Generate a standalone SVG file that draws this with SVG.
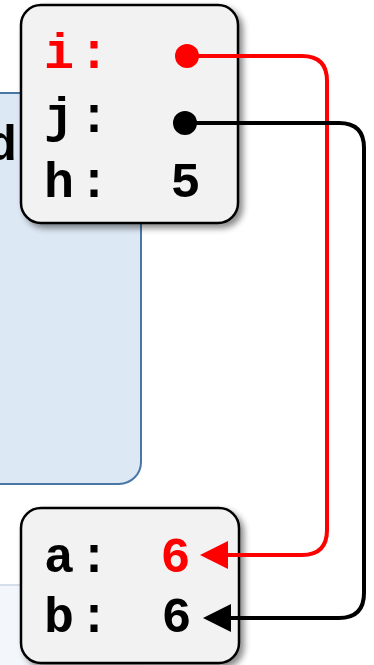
<svg xmlns="http://www.w3.org/2000/svg" width="374" height="665" viewBox="0 0 374 665">
  <style>
    .box { fill: #f2f2f2; stroke: #000; stroke-width: 2.5; filter: url(#shadow); }
    .lbl { font-family: "Liberation Mono", "DejaVu Sans Mono", monospace; font-weight: bold; font-size: 50px; letter-spacing: 5px; fill: #000; }
    .val { font-family: "Liberation Mono", "DejaVu Sans Mono", monospace; font-weight: bold; font-size: 50px; text-anchor: middle; fill: #000; }
    .red { fill: #ff0000; }
    .conn { fill: none; stroke-width: 4; stroke-linejoin: round; }
  </style>
  <defs>
    <filter id="shadow" x="-20%" y="-20%" width="150%" height="150%">
      <feDropShadow dx="4" dy="4" stdDeviation="3" flood-color="#000" flood-opacity="0.45"/>
    </filter>
    <marker id="arrRed" viewBox="0 0 28 28" refX="18" refY="14" markerWidth="28" markerHeight="28" orient="auto" markerUnits="userSpaceOnUse">
      <path d="M0,0 L28,14 L0,28 z" fill="#ff0000"/>
    </marker>
    <marker id="arrBlack" viewBox="0 0 28 28" refX="18" refY="14" markerWidth="28" markerHeight="28" orient="auto" markerUnits="userSpaceOnUse">
      <path d="M0,0 L28,14 L0,28 z" fill="#000"/>
    </marker>
  </defs>

  <rect x="0" y="0" width="374" height="665" fill="#ffffff"/>

  <g id="frame-blue">
    <rect x="-30" y="93" width="171" height="391" rx="22" fill="#dde8f5" stroke="#4a76a6" stroke-width="2"/>
    <text class="val" x="2" y="160">d</text>
  </g>
  <g id="frame-light">
    <rect x="-30" y="585" width="171" height="120" fill="#f3f7fc"/>
    <line x1="-30" y1="585" x2="141" y2="585" stroke="#d5dfeb" stroke-width="2"/>
  </g>

  <g id="node-top">
    <rect class="box" x="21" y="5" width="217" height="218" rx="20"/>
    <text class="lbl red" x="44" y="68">i:</text>
    <text class="lbl" x="44" y="132">j:</text>
    <text class="lbl" x="44" y="197">h:</text>
    <text class="val" x="185.5" y="197">5</text>
  </g>

  <g id="node-bottom">
    <rect class="box" x="21" y="508" width="218" height="155" rx="20"/>
    <text class="lbl" x="44" y="572">a:</text>
    <text class="lbl" x="44" y="632">b:</text>
    <text class="val red" x="175.5" y="572">6</text>
    <text class="val" x="176.5" y="632">6</text>
  </g>

  <g id="connectors">
    <path class="conn" stroke="#ff0000" d="M187,56 H302 Q327,56 327,81 V530 Q327,555 302,555 H210" marker-end="url(#arrRed)"/>
    <circle cx="187" cy="56" r="12" fill="#ff0000"/>
    <path class="conn" stroke="#000" d="M185,123 H339 Q364,123 364,148 V593 Q364,618 339,618 H213" marker-end="url(#arrBlack)"/>
    <circle cx="185" cy="123" r="12" fill="#000"/>
  </g>
</svg>
